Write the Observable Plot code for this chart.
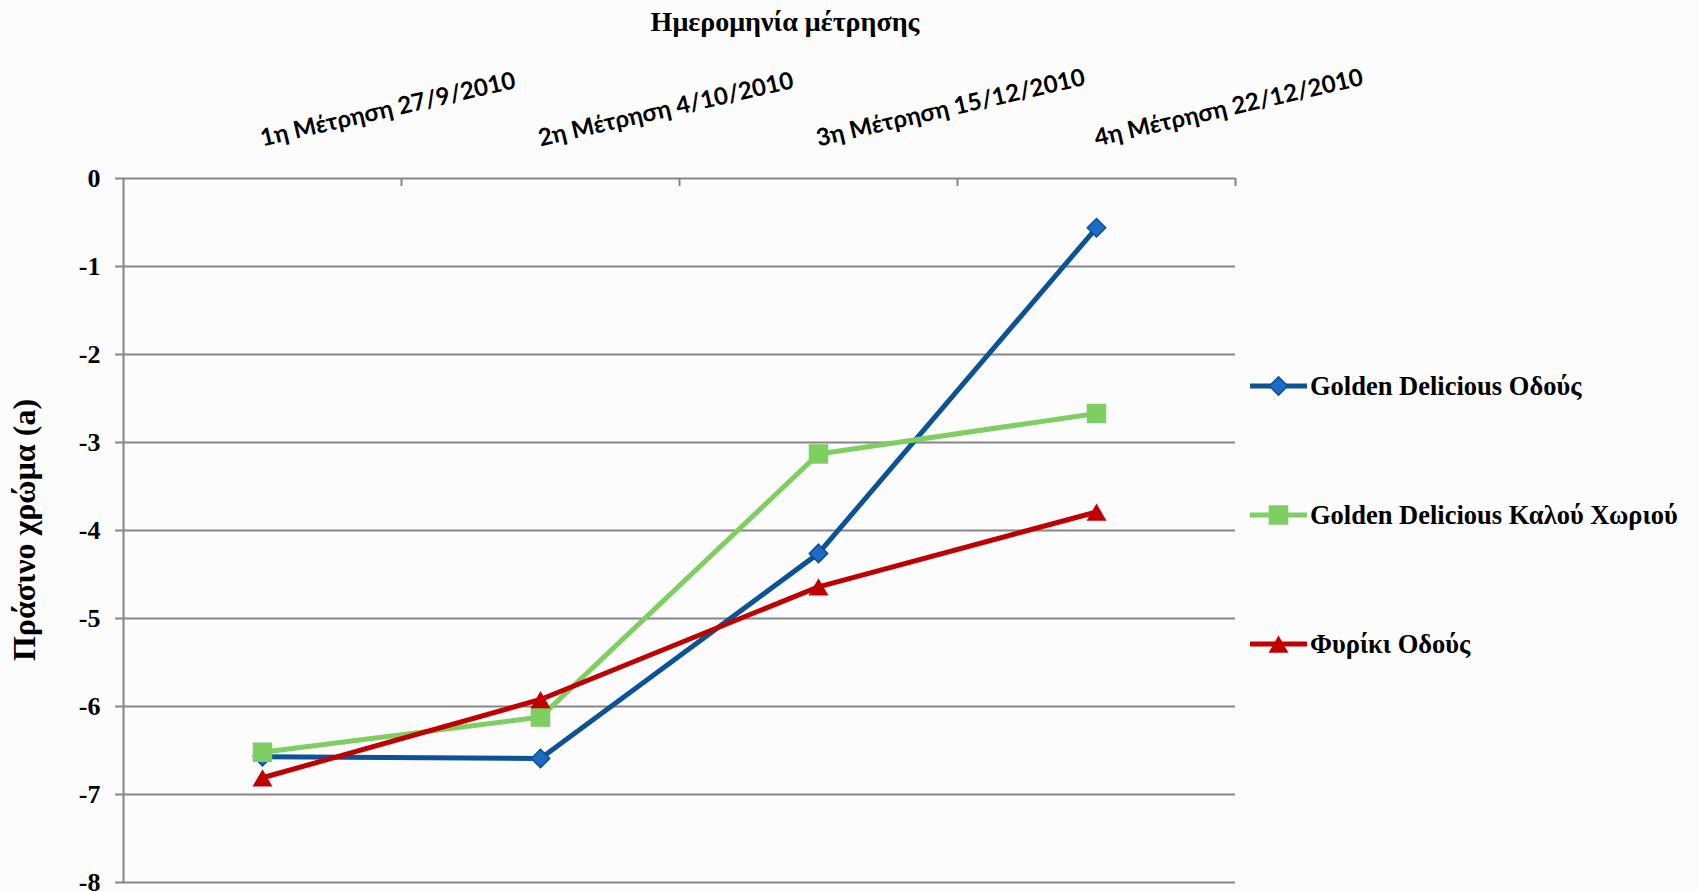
<!DOCTYPE html>
<html>
<head>
<meta charset="utf-8">
<script src="https://cdn.jsdelivr.net/npm/d3@7"></script>
<script src="https://cdn.jsdelivr.net/npm/@observablehq/plot@0.6"></script>
<style>
  html, body { margin: 0; padding: 0; background: #fcfcfc; }
  #wrap { position: relative; width: 1698px; height: 891px; overflow: hidden; background: #fcfcfc; }
  #chart { position: absolute; left: 0; top: 0; }
  #title {
    position: absolute; left: 485px; width: 600px; top: 8px; text-align: center;
    font-family: "Liberation Serif", serif; font-weight: bold; font-size: 28px; line-height: 1; color: #000;
  }
  #ylabel {
    position: absolute; left: -176px; width: 400px; top: 514px; text-align: center;
    font-family: "Liberation Serif", serif; font-weight: bold; font-size: 32px; line-height: 32px; color: #000;
    transform: rotate(-90deg); transform-origin: 50% 50%;
  }
  .lrow { position: absolute; left: 1250px; height: 30px; display: flex; align-items: center; white-space: nowrap; }
  .lrow span { font-family: "Liberation Serif", serif; font-weight: bold; font-size: 26.5px; color: #000; margin-left: 3px; }
</style>
</head>
<body>
<div id="wrap">
  <div id="chart"></div>
  <div id="title">Ημερομηνία μέτρησης</div>
  <div id="ylabel">Πράσινο χρώμα (a)</div>
  <div id="legend"></div>
</div>
<script>
// ---- data ----
const categories = ["1η Μέτρηση 27/9/2010", "2η Μέτρηση 4/10/2010", "3η Μέτρηση 15/12/2010", "4η Μέτρηση 22/12/2010"];
const seriesNames = ["Golden Delicious Οδούς", "Golden Delicious Καλού Χωριού", "Φυρίκι Οδούς"];
const goldenOdous = [-6.57, -6.59, -4.26, -0.56];
const goldenKalouChoriou = [-6.52, -6.12, -3.13, -2.67];
const fyrikiOdous = [-6.81, -5.92, -4.64, -3.79];
const yTicks = [0, -1, -2, -3, -4, -5, -6, -7, -8];

// ---- styles ----
const seriesStyle = [
  {line: "#0B5296", fill: "#1A6CC6", stroke: "#0B4F90", symbol: "diamond2", r: 8.3, dy: 0},
  {line: "#7FCE62", fill: "#7FCE62", stroke: "none", symbol: "square", r: 11, dy: 0},
  {line: "#C00000", fill: "#C00000", stroke: "none", symbol: "triangle", r: 7.4, dy: 3}
];
const seriesValues = [goldenOdous, goldenKalouChoriou, fyrikiOdous];

const data = seriesNames.flatMap((name, s) =>
  categories.map((cat, i) => ({series: name, cat, value: seriesValues[s][i]})));

const W = 1698, H = 891, mL = 123, mR = 463, mT = 178, mB = 9;
const halfStep = (W - mL - mR) / categories.length / 2;
const frameH = H - mT - mB;
const gridColor = "#868686";

const seriesMarks = seriesNames.flatMap((name, s) => {
  const st = seriesStyle[s];
  const rows = data.filter(d => d.series === name);
  return [
    Plot.lineY(rows, {x: "cat", y: "value", stroke: st.line, strokeWidth: 5, strokeLinejoin: "round"}),
    Plot.dot(rows, {x: "cat", y: "value", symbol: st.symbol, r: st.r, fill: st.fill, stroke: st.stroke, strokeWidth: 1.5, dy: st.dy})
  ];
});

const chart = Plot.plot({
  width: W, height: H,
  marginLeft: mL, marginRight: mR, marginTop: mT, marginBottom: mB,
  style: {background: "transparent", fontFamily: "Liberation Serif"},
  x: {type: "point", domain: categories, padding: 0.5, axis: null},
  y: {domain: [-8, 0], axis: null},
  marks: [
    Plot.gridY(yTicks, {stroke: gridColor, strokeOpacity: 1, strokeWidth: 2}),
    Plot.ruleX([categories[0]], {x: d => d, dx: -halfStep, stroke: gridColor, strokeWidth: 2}),
    Plot.ruleX(categories.slice(1), {x: d => d, dx: -halfStep, insetBottom: frameH - 8, stroke: gridColor, strokeWidth: 2}),
    Plot.ruleX([categories[categories.length - 1]], {x: d => d, dx: halfStep, insetBottom: frameH - 8, stroke: gridColor, strokeWidth: 2}),
    Plot.axisY({ticks: yTicks, tickSize: 8, tickPadding: 15, tickFormat: d => String(d),
      stroke: gridColor, strokeWidth: 2, strokeOpacity: 1, fill: "#000",
      fontSize: 26, fontWeight: "bold", fontFamily: "Liberation Serif", label: null}),
    Plot.text(categories, {x: d => d, frameAnchor: "top", text: d => d, rotate: -13,
      textAnchor: "start", lineAnchor: "bottom", dy: -32,
      fontSize: 24, fontWeight: "bold", fontFamily: "Lato", fill: "#000"}),
    ...seriesMarks
  ]
});
document.getElementById("chart").appendChild(chart);

// ---- legend ----
const legendCenters = [386, 515, 644];
const legend = document.getElementById("legend");
const symbolPath = {
  diamond2: d3.symbol(d3.symbolDiamond2, Math.PI * 8.3 * 8.3)(),
  square: d3.symbol(d3.symbolSquare, Math.PI * 11 * 11)(),
  triangle: d3.symbol(d3.symbolTriangle, Math.PI * 7.4 * 7.4)()
};
seriesNames.forEach((name, s) => {
  const st = seriesStyle[s];
  const row = document.createElement("div");
  row.className = "lrow";
  row.style.top = (legendCenters[s] - 15) + "px";
  row.innerHTML =
    `<svg width="57" height="30"><line x1="0" x2="57" y1="15" y2="15" stroke="${st.line}" stroke-width="5"/>` +
    `<path transform="translate(28.5,${15 + st.dy})" d="${symbolPath[st.symbol]}" fill="${st.fill}" stroke="${st.stroke}" stroke-width="1.5"/></svg>` +
    `<span>${name}</span>`;
  legend.appendChild(row);
});
</script>
</body>
</html>
